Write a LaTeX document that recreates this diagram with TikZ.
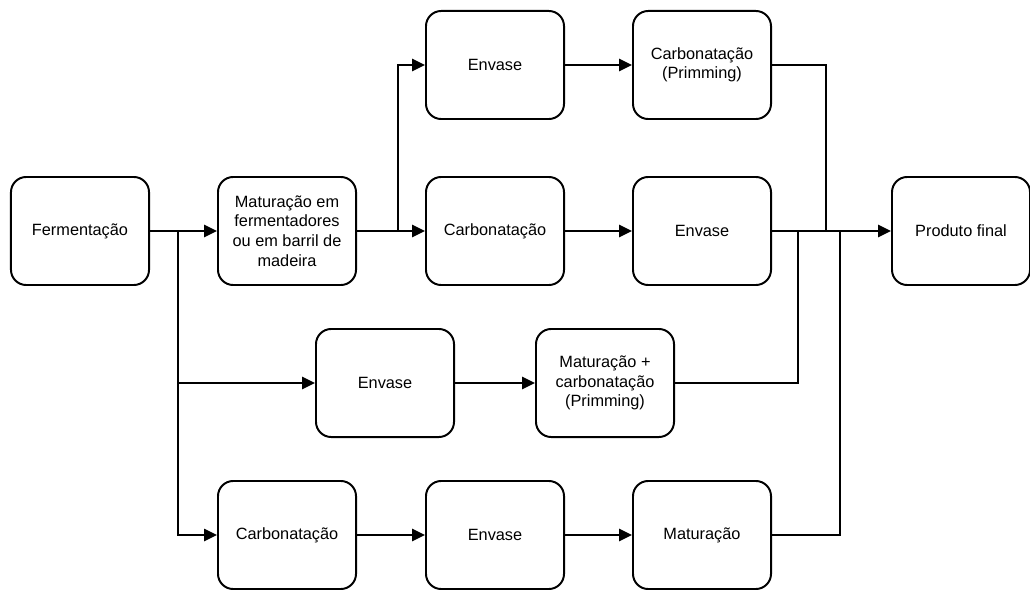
\documentclass[tikz,border=0pt]{standalone}
\usepackage{fontspec}
\setmainfont{Liberation Sans}
\usetikzlibrary{arrows.meta}
\begin{document}
\begin{tikzpicture}[
        x=0.025cm, y=-0.025cm,
        etapa/.style={draw, line width=1.4pt, rounded corners=0.38cm,
            minimum width=3.45cm, minimum height=2.7cm, align=center,
            font=\fontsize{11.6}{13.9}\selectfont},
        seta/.style={line width=1.4pt, -{Triangle[length=0.32cm,width=0.3cm]}},
        linha/.style={line width=1.4pt}
    ]
    \useasboundingbox (0,0) rectangle (1030,590);

    % etapas
    \node[etapa] (ferm) at (80,231) {Fermentação};
    \node[etapa] (mat) at (287,231) {Maturação em\\fermentadores\\ou em barril de\\madeira};
    \node[etapa] (envA) at (495,65) {Envase};
    \node[etapa] (carbA) at (702,65) {Carbonatação\\(Primming)};
    \node[etapa] (carbB) at (495,231) {Carbonatação};
    \node[etapa] (envB) at (702,231) {Envase};
    \node[etapa] (final) at (961,231) {Produto final};
    \node[etapa] (envC) at (385,383) {Envase};
    \node[etapa] (matC) at (605,383) {Maturação +\\carbonatação\\(Primming)};
    \node[etapa] (carbD) at (287,535) {Carbonatação};
    \node[etapa] (envD) at (495,535) {Envase};
    \node[etapa] (matD) at (702,535) {Maturação};

    % pontos de juncao
    \coordinate (jFerm) at (178,231);
    \coordinate (jMat) at (398,231);
    \coordinate (jC) at (798,231);
    \coordinate (jA) at (826,231);
    \coordinate (jD) at (840,231);

    % ligacoes
    \draw[seta] (ferm.east) -- (mat.west);
    \draw[seta] (jFerm) |- (envC.west);
    \draw[seta] (jFerm) |- (carbD.west);
    \draw[seta] (mat.east) -- (carbB.west);
    \draw[seta] (jMat) |- (envA.west);
    \draw[seta] (envA) -- (carbA);
    \draw[seta] (carbB) -- (envB);
    \draw[seta] (envC) -- (matC);
    \draw[seta] (carbD) -- (envD);
    \draw[seta] (envD) -- (matD);
    \draw[seta] (envB.east) -- (final.west);
    \draw[linha] (carbA.east) -| (jA);
    \draw[linha] (matC.east) -| (jC);
    \draw[linha] (matD.east) -| (jD);
\end{tikzpicture}
\end{document}
